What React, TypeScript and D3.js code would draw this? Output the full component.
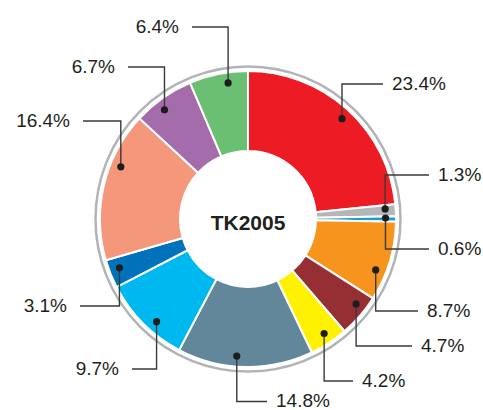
import React from "react";
import * as d3 from "d3";

// Shares by category, clockwise from 12 o'clock
const categories = [
  "A", "B", "C", "D", "E", "F", "G", "H", "I", "J", "K", "L",
];
const shares = [23.4, 1.3, 0.6, 8.7, 4.7, 4.2, 14.8, 9.7, 3.1, 16.4, 6.7, 6.4];
const labels = shares.map((v) => `${v.toFixed(1)}%`);
const colors = [
  "#ed1c24", "#b5b6b8", "#1b9bd7", "#f7941d", "#962f34", "#fff200",
  "#62869a", "#00b8f0", "#0072bc", "#f4977a", "#a46caa", "#6bbf73",
];
const title = "TK2005";

// Leader layout per slice: anchor angle nudge (deg), elbow dy from centre,
// horizontal end dx from centre
const anchorNudge = [1, -0.8, -0.4, 5, -2.7, -0.5, 3.6, -3.5, 1, 9, -2.3, 3.2];
const elbowDy = [-135, -44, 30, 92, 127, 162, 182.5, 150, 87, -98, -152, -192];
const elbowDx = [135, 181, 181, 170, 164, 105, 19, -116, -168, -165, -120, -56];

const W = 483;
const H = 410;
const cx = 248;
const cy = 219;
const rOuter = 148;
const rInner = 68;
const rRing = 152.5;
const rAnchor = 137.5;

export default function App() {
  const pie = d3
    .pie<number>()
    .sort(null)
    .value((d) => d)
    .startAngle(0)
    .endAngle(2 * Math.PI);
  const arcs = pie(shares);
  const arc = d3
    .arc<d3.PieArcDatum<number>>()
    .innerRadius(rInner)
    .outerRadius(rOuter);

  return (
    <svg
      width={W}
      height={H}
      style={{ position: "absolute", left: 0, top: 0, background: "#fff" }}
      fontFamily="'Liberation Sans', Arial, Helvetica, sans-serif"
    >
      <g transform={`translate(${cx},${cy})`}>
        <circle r={rRing} fill="none" stroke="#b1b3b6" strokeWidth={2.5} />
        {arcs.map((a, i) => (
          <path
            key={categories[i]}
            d={arc(a) || ""}
            fill={colors[i]}
            stroke="#fff"
            strokeWidth={2}
            strokeLinejoin="miter"
          />
        ))}
        <text
          textAnchor="middle"
          dy="0.36em"
          y={3}
          fontSize={21}
          fontWeight="bold"
          fill="#231f20"
        >
          {title}
        </text>
        {arcs.map((a, i) => {
          const ang = (a.startAngle + a.endAngle) / 2 + (anchorNudge[i] * Math.PI) / 180;
          const ax = rAnchor * Math.sin(ang);
          const ay = -rAnchor * Math.cos(ang);
          const ey = elbowDy[i];
          const ex = elbowDx[i];
          const right = ex > ax;
          const pts = `${ax},${ay} ${ax},${ey} ${ex},${ey}`;
          return (
            <g key={"l" + i}>
              <polyline
                points={pts}
                fill="none"
                stroke="#3a3a3a"
                strokeWidth={1.4}
              />
              <circle cx={ax} cy={ay} r={3.6} fill="#1d1d1b" />
              <text
                x={right ? ex + 9 : ex - 13}
                y={ey}
                dy="0.3em"
                textAnchor={right ? "start" : "end"}
                fontSize={19}
                fill="#231f20"
              >
                {labels[i]}
              </text>
            </g>
          );
        })}
      </g>
    </svg>
  );
}
